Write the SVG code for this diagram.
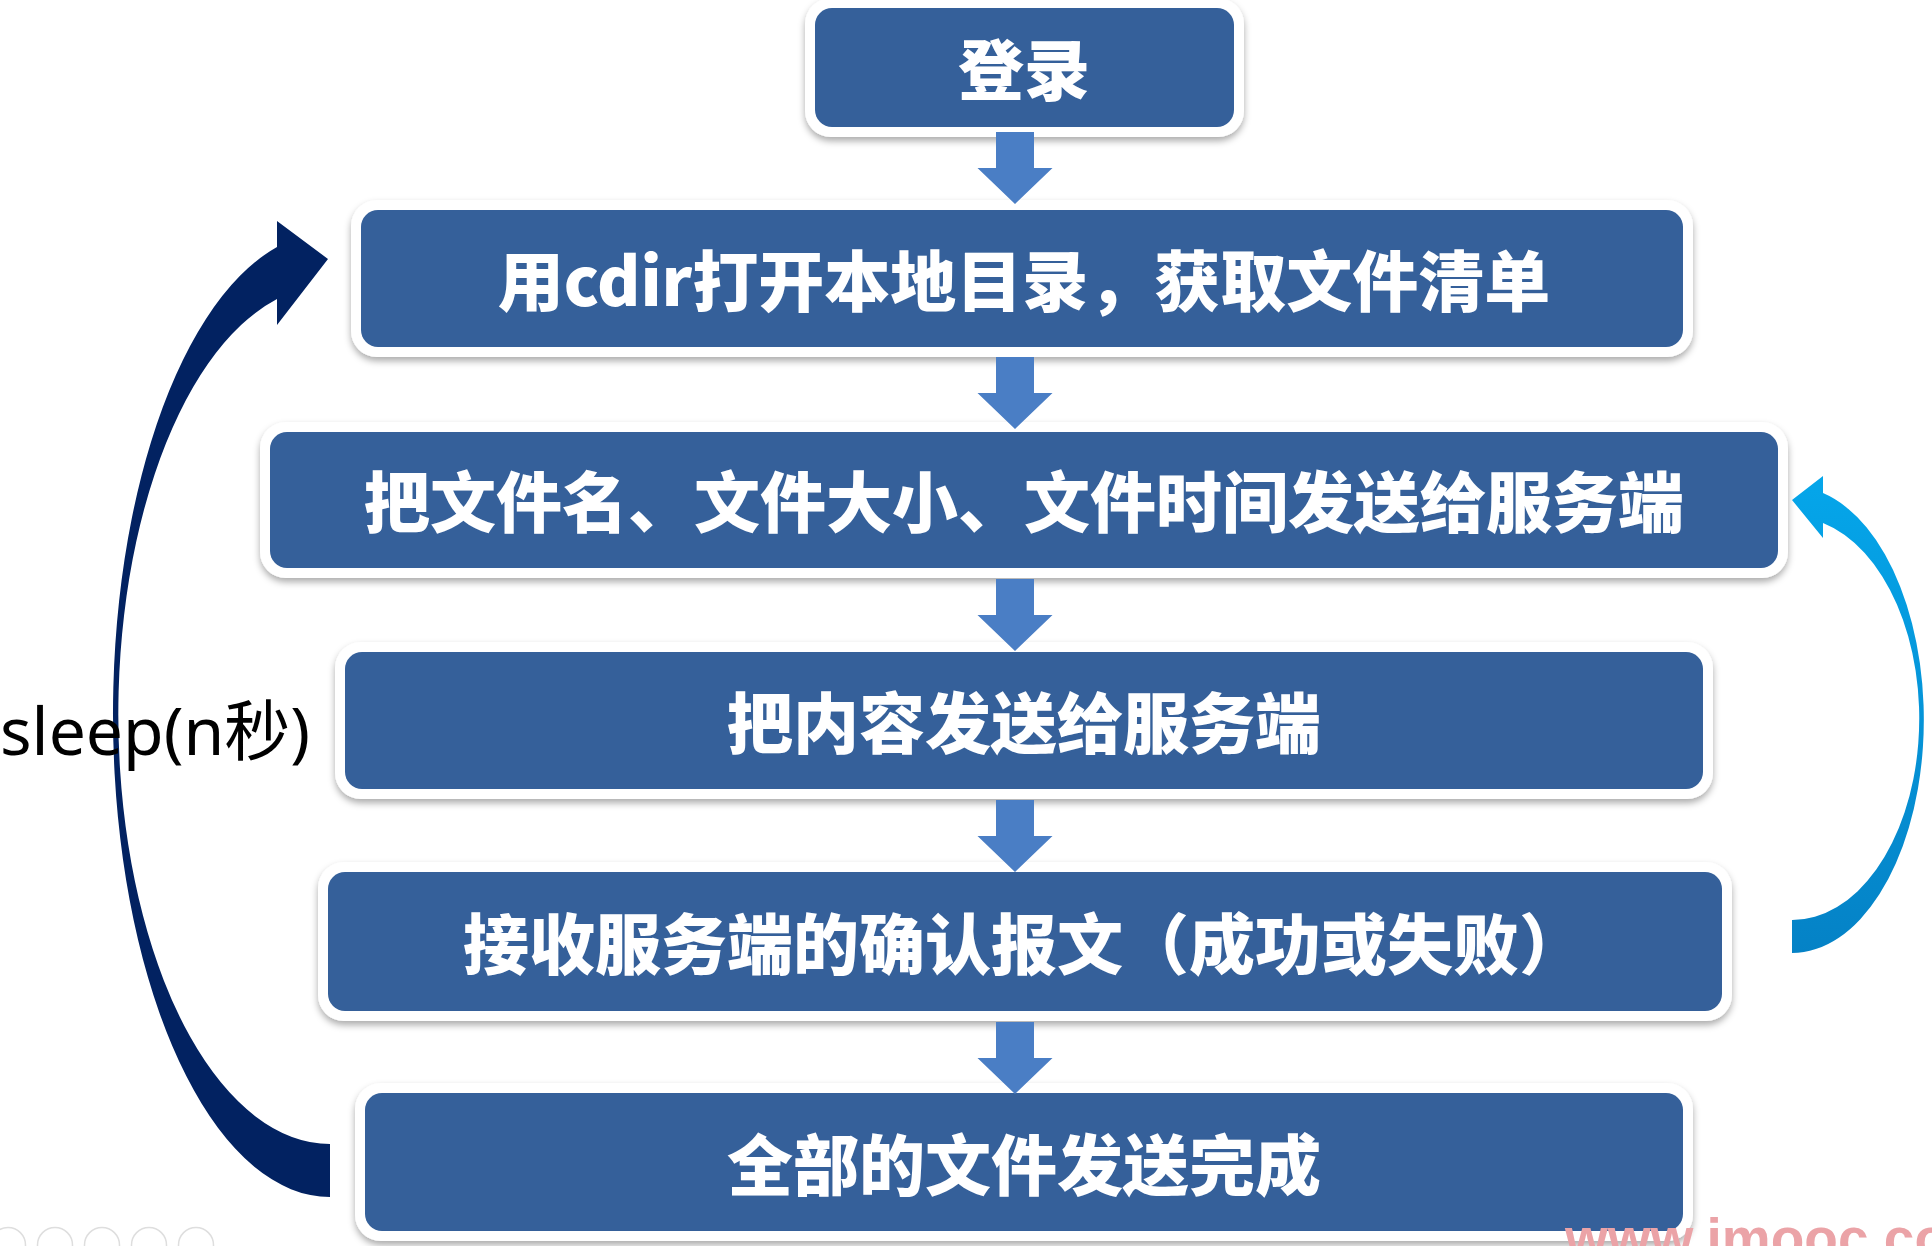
<svg xmlns="http://www.w3.org/2000/svg" xmlns:xlink="http://www.w3.org/1999/xlink" width="1932" height="1246" viewBox="0 0 1932 1246">
  <style>
    .frame { fill: #ffffff; filter: url(#shadow); }
    .fill { fill: #35609a; }
    .label { fill: #ffffff; font-family: "Noto Sans CJK SC", "Noto Sans", sans-serif; font-weight: 900; font-size: 66px; text-anchor: middle; dominant-baseline: central; }
    .step { fill: #4a7ec5; }
    .note { fill: #000000; font-family: "Noto Sans", "Noto Sans CJK SC", sans-serif; font-size: 66px; }
    .mark { fill: #eba3a7; font-family: "Liberation Sans", Arial, sans-serif; font-weight: 700; font-size: 55px; }
    .ctrl { fill: #ffffff; stroke: #dedede; stroke-width: 1.5; }
  </style>
  <defs>
    <filter id="shadow" x="-5%" y="-20%" width="110%" height="150%">
      <feDropShadow dx="0" dy="4" stdDeviation="3.5" flood-color="#000000" flood-opacity="0.33"/>
    </filter>
    <linearGradient id="lightBlue" x1="0" y1="0" x2="0" y2="1">
      <stop offset="0" stop-color="#05a6ea"/>
      <stop offset="1" stop-color="#0582c6"/>
    </linearGradient>
    <!-- block arrow pointing down, origin at top centre of the shaft -->
    <path id="down" d="M-19,0 V36 H-37.5 L0,72 L37.5,36 H19 V0 Z"/>
  </defs>

  <rect width="1932" height="1246" fill="#ffffff"/>

  <!-- flow steps -->
  <g id="node-login">
    <rect class="frame" x="805" y="-2" width="439" height="139" rx="26"/>
    <rect class="fill" x="815" y="8" width="419" height="119" rx="17"/>
    <text class="label" x="1024" y="66">登录</text>
  </g>
  <g id="node-open-dir">
    <rect class="frame" x="351" y="200" width="1342" height="157" rx="26"/>
    <rect class="fill" x="361" y="210" width="1322" height="137" rx="17"/>
    <text class="label" x="1024" y="277">用cdir打开本地目录，获取文件清单</text>
  </g>
  <g id="node-send-meta">
    <rect class="frame" x="260" y="422" width="1528" height="156" rx="26"/>
    <rect class="fill" x="270" y="432" width="1508" height="136" rx="17"/>
    <text class="label" x="1024" y="498">把文件名、文件大小、文件时间发送给服务端</text>
  </g>
  <g id="node-send-content">
    <rect class="frame" x="335" y="642" width="1378" height="157" rx="26"/>
    <rect class="fill" x="345" y="652" width="1358" height="137" rx="17"/>
    <text class="label" x="1024" y="719">把内容发送给服务端</text>
  </g>
  <g id="node-receive-ack">
    <rect class="frame" x="318" y="862" width="1414" height="159" rx="26"/>
    <rect class="fill" x="328" y="872" width="1394" height="139" rx="17"/>
    <text class="label" x="1024" y="940">接收服务端的确认报文（成功或失败）</text>
  </g>
  <g id="node-all-sent">
    <rect class="frame" x="355" y="1083" width="1338" height="158" rx="26"/>
    <rect class="fill" x="365" y="1093" width="1318" height="138" rx="17"/>
    <text class="label" x="1024" y="1161">全部的文件发送完成</text>
  </g>

  <!-- connectors -->
  <g id="connectors">
    <use href="#down" class="step" x="1015" y="132"/>
    <use href="#down" class="step" x="1015" y="357"/>
    <use href="#down" class="step" x="1015" y="579"/>
    <use href="#down" class="step" x="1015" y="800"/>
    <use href="#down" class="step" x="1015" y="1022"/>
    <!-- outer loop: back to listing the directory -->
    <path id="loop-sleep" fill="#022261" d="M330,1197 A217,482.3 0 0 1 277,247 L277,221 L328,259 L277,325 L277,299 A212,429.4 0 0 0 330,1144 Z"/>
    <!-- inner loop: next file -->
    <path id="loop-next" fill="url(#lightBlue)" d="M1792,953 A132,233.3 0 0 0 1823,493 L1823,476 L1792,500 L1823,538 L1823,523 A127,201.5 0 0 1 1792,920 Z"/>
  </g>

  <text class="note" x="0" y="755">sleep(n秒)</text>

  <text class="mark" x="1565" y="1257">www.imooc.com</text>

  <g id="player-controls">
    <circle class="ctrl" cx="8" cy="1245" r="17.5"/>
    <circle class="ctrl" cx="55" cy="1245" r="17.5"/>
    <circle class="ctrl" cx="102" cy="1245" r="17.5"/>
    <circle class="ctrl" cx="149" cy="1245" r="17.5"/>
    <circle class="ctrl" cx="196" cy="1245" r="17.5"/>
  </g>
</svg>
